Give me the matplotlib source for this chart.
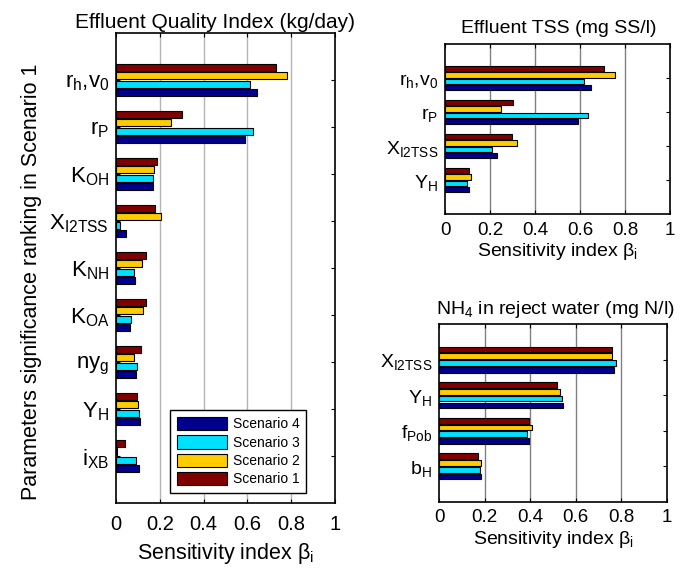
import numpy as np
import matplotlib
matplotlib.use("Agg")
import matplotlib.pyplot as plt
from matplotlib.patches import Patch

plt.rcParams['font.family'] = ['Liberation Sans', 'DejaVu Sans']
plt.rcParams['mathtext.fontset'] = 'custom'
plt.rcParams['mathtext.rm'] = 'Liberation Sans'
plt.rcParams['mathtext.it'] = 'Liberation Sans'
plt.rcParams['mathtext.default'] = 'regular'

# ---- data -----------------------------------------------------------------
scenarios = ['Scenario 1', 'Scenario 2', 'Scenario 3', 'Scenario 4']
colors = ['#800000', '#ffcc00', '#00e0ff', '#00008c']

eqi_params = ['$r_h{,}v_0$', '$r_P$', '$K_{OH}$', '$X_{I2TSS}$', '$K_{NH}$',
              '$K_{OA}$', '$ny_g$', '$Y_H$', '$i_{XB}$']
eqi_s1 = [0.73, 0.30, 0.187, 0.176, 0.136, 0.136, 0.113, 0.095, 0.040]
eqi_s2 = [0.78, 0.25, 0.174, 0.203, 0.118, 0.125, 0.084, 0.100, 0.005]
eqi_s3 = [0.61, 0.627, 0.168, 0.020, 0.084, 0.067, 0.095, 0.107, 0.090]
eqi_s4 = [0.645, 0.59, 0.170, 0.044, 0.086, 0.063, 0.092, 0.109, 0.104]

tss_params = ['$r_h{,}v_0$', '$r_P$', '$X_{I2TSS}$', '$Y_H$']
tss_s1 = [0.708, 0.300, 0.296, 0.107]
tss_s2 = [0.757, 0.249, 0.321, 0.116]
tss_s3 = [0.619, 0.634, 0.210, 0.099]
tss_s4 = [0.649, 0.591, 0.231, 0.107]

nh4_params = ['$X_{I2TSS}$', '$Y_H$', '$f_{Pob}$', '$b_H$']
nh4_s1 = [0.757, 0.519, 0.393, 0.170]
nh4_s2 = [0.757, 0.532, 0.409, 0.186]
nh4_s3 = [0.778, 0.538, 0.387, 0.178]
nh4_s4 = [0.769, 0.545, 0.393, 0.186]

xticks = [0, 0.2, 0.4, 0.6, 0.8, 1]
xtick_labels = ['0', '0.2', '0.4', '0.6', '0.8', '1']
xlabel = r'Sensitivity index $\beta_i$'


def grouped_barh(ax, params, series, grid_color, bar_h, step,
                 label_fs, tick_fs, xlabel_fs, xpad, xlabelpad):
    n = len(params)
    pos = np.arange(1, n + 1)
    offsets = [-1.5, -0.5, 0.5, 1.5]
    for vals, off, col in zip(series, offsets, colors):
        ax.barh(pos + off * step, vals, height=bar_h, color=col,
                edgecolor='black', linewidth=0.8, zorder=3)
    ax.set_ylim(n + 1, 0)
    ax.set_yticks(pos)
    ax.set_yticklabels(params, fontsize=label_fs)
    ax.set_xlim(0, 1)
    ax.set_xticks(xticks)
    ax.set_xticklabels(xtick_labels, fontsize=tick_fs)
    for x in xticks[1:-1]:
        ax.axvline(x, color=grid_color, linewidth=1.0, zorder=1)
    ax.tick_params(direction='in', top=True, right=True, length=3,
                   width=0.8, pad=5)
    ax.tick_params(axis='x', pad=xpad)
    for s in ax.spines.values():
        s.set_linewidth(1.2)
    ax.set_xlabel(xlabel, fontsize=xlabel_fs, labelpad=xlabelpad)


fig = plt.figure(figsize=(6.89, 5.71), dpi=100)

ax1 = fig.add_axes([0.1684, 0.1191, 0.318, 0.823])
grouped_barh(ax1, eqi_params, [eqi_s1, eqi_s2, eqi_s3, eqi_s4], '#b4b4b4',
             0.155, 0.18, 16, 14.5, 15.5, 9, 5)
ax1.set_title('Effluent Quality Index (kg/day)', fontsize=15, pad=4, x=0.452)
ax1.set_ylabel('Parameters significance ranking in Scenario 1', fontsize=15.5,
               labelpad=6)
ax1.yaxis.set_label_coords(-0.34, 0.47)
handles = [Patch(facecolor=colors[i], edgecolor='black', linewidth=0.8,
                 label=scenarios[i]) for i in [3, 2, 1, 0]]
leg = ax1.legend(handles=handles, loc='lower left',
                 bbox_to_anchor=(0.247, 0.021), borderaxespad=0,
                 fontsize=10, handlelength=3.6, handleheight=1.1,
                 labelspacing=0.28, handletextpad=0.4, borderpad=0.5,
                 fancybox=False, framealpha=1, edgecolor='black')
leg.get_frame().set_linewidth(1.0)
leg.set_zorder(5)

ax2 = fig.add_axes([0.6459, 0.6252, 0.3266, 0.2977])
grouped_barh(ax2, tss_params, [tss_s1, tss_s2, tss_s3, tss_s4], '#808080',
             0.16, 0.19, 14, 13.5, 14, 6, 1)
ax2.set_title('Effluent TSS (mg SS/l)', fontsize=14, pad=8, x=0.507)

ax3 = fig.add_axes([0.6372, 0.1208, 0.3309, 0.3117])
grouped_barh(ax3, nh4_params, [nh4_s1, nh4_s2, nh4_s3, nh4_s4], '#808080',
             0.16, 0.19, 14, 13.5, 14, 5, 2)
ax3.set_title('NH$_4$ in reject water (mg N/l)', fontsize=14, pad=7, x=0.51)

fig.savefig('out.png', dpi=100)
